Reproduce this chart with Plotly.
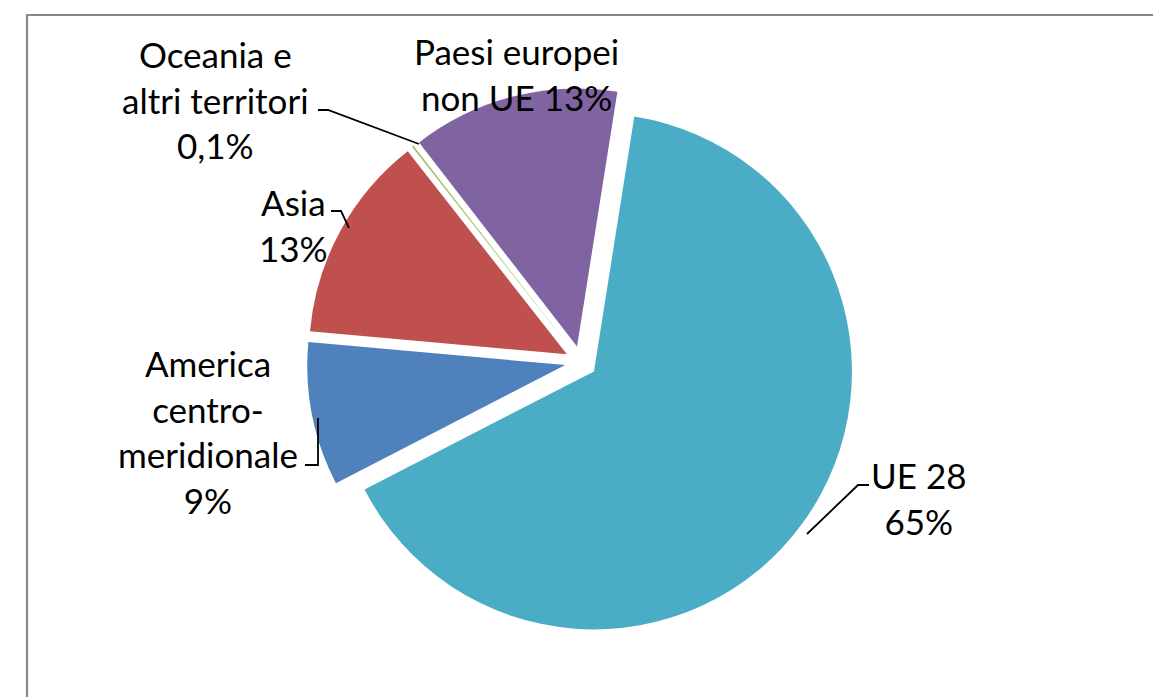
import plotly.graph_objects as go

# Data
categories = ["UE 28", "America centro-meridionale", "Asia",
              "Oceania e altri territori", "Paesi europei non UE"]
shares = [65, 9, 13, 0.1, 13]
label_texts = ["UE 28<br>65%", "America<br>centro-<br>meridionale<br>9%",
               "Asia<br>13%", "Oceania e<br>altri territori<br>0,1%",
               "Paesi europei<br>non UE 13%"]
colors = ["#4BACC6", "#4F81BD", "#C0504D", "#9BBB59", "#8064A2"]

W, H = 1161, 697

def px(x):
    return x / W

def py(y):
    return 1 - y / H

CX, CY, HALF = 573, 354, 274

fig = go.Figure()
fig.add_trace(go.Pie(
    labels=categories,
    values=shares,
    sort=False,
    direction="clockwise",
    rotation=9,
    pull=0.062,
    textinfo="none",
    hoverinfo="label+percent",
    marker=dict(colors=colors, line=dict(width=0)),
    showlegend=False,
    domain=dict(x=[px(CX - HALF), px(CX + HALF)], y=[py(CY + HALF), py(CY - HALF)]),
))

# label positions (pixel centres)
label_pos = [(911, 490), (200, 423), (285, 217), (207, 92), (508, 66)]
for txt, (x, y) in zip(label_texts, label_pos):
    fig.add_annotation(
        x=px(x), y=py(y), xref="paper", yref="paper",
        text=txt, showarrow=False, xanchor="center", yanchor="middle",
        align="center", font=dict(family="Lato", size=35, color="#000000"),
    )

# leader lines
leaders = [
    [(861, 477), (850, 477), (799, 526)],
    [(297, 457), (310, 457), (310, 410)],
    [(323, 203), (333, 203), (341, 220)],
    [(310, 102), (320, 102), (411, 136)],
]
for pts in leaders:
    path = "M " + " L ".join(f"{px(a)},{py(b)}" for a, b in pts)
    fig.add_shape(type="path", path=path, xref="paper", yref="paper",
                  line=dict(color="#000000", width=1.8))

# chart frame
fig.add_shape(type="rect", xref="paper", yref="paper",
              x0=px(19), x1=px(1151), y0=-0.05, y1=py(7),
              line=dict(color="#898989", width=2.2), fillcolor="rgba(0,0,0,0)")

fig.update_layout(
    width=W, height=H,
    margin=dict(l=0, r=0, t=0, b=0),
    paper_bgcolor="white",
    plot_bgcolor="white",
)

fig.write_html("out.html")
